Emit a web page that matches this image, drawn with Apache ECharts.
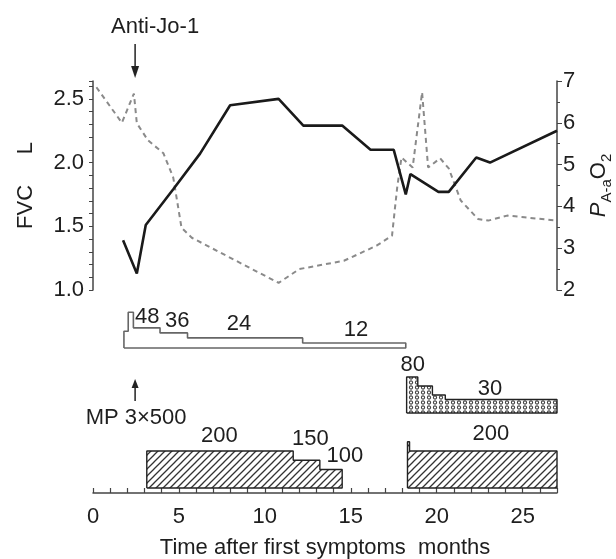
<!DOCTYPE html>
<html>
<head>
<meta charset="utf-8">
<script src="https://cdn.jsdelivr.net/npm/echarts@6/dist/echarts.min.js"></script>
<style>html,body{margin:0;background:#fff}#main{width:616px;height:559px}</style>
</head>
<body>
<div id="main"></div>
<script>
var FONT = "'Liberation Sans',Arial,sans-serif";
var FS = 22;
var INK = '#1e1e1e';

// months after first symptoms
var fvcMonths = [1.75, 2.55, 3.07, 4.67, 6.23, 7.98, 10.8, 12.24, 14.5, 16.15, 17.5, 18.2, 18.47, 20.1, 20.7, 22.3, 23.1, 27.0];
var fvcLitres = [1.39, 1.13, 1.51, 1.79, 2.07, 2.45, 2.50, 2.29, 2.29, 2.10, 2.10, 1.75, 1.91, 1.77, 1.77, 2.04, 2.00, 2.25];

var paMonths = [0.2, 1.68, 2.38, 2.55, 3.2, 4.1, 4.67, 5.15, 5.75, 10.8, 12.0, 14.6, 16.5, 17.4, 17.7, 17.95, 18.6, 19.15, 19.5, 20.2, 20.7, 21.4, 22.4, 23.0, 24.1, 25.1, 27.0];
var paValues = [6.85, 6.0, 6.7, 5.99, 5.58, 5.27, 4.69, 3.49, 3.25, 2.17, 2.5, 2.7, 3.06, 3.30, 4.45, 5.17, 4.93, 6.73, 4.93, 5.15, 4.91, 4.14, 3.7, 3.66, 3.78, 3.74, 3.66];

// dose courses: month where each step starts (last = end of course), dose of each step
var predMonths = [1.8, 2.05, 2.35, 3.9, 5.5, 12.2, 18.2];
var predDose = [40, 85, 48, 36, 24, 12];
var dotMonths = [18.25, 18.9, 19.75, 20.5, 27];
var dotDose = [80, 60, 40, 30];
var hatchAMonths = [3.13, 11.65, 13.2, 14.5];
var hatchADose = [200, 150, 100];
var hatchBMonths = [18.3, 18.42, 27];
var hatchBDose = [250, 200];

// dose labels: text, month, level
var predLabels = [['48', 3.15, 74], ['36', 4.9, 64], ['24', 8.5, 57], ['12', 15.3, 43]];
var dotLabels = [['80', 18.6, 107], ['30', 23.1, 53]];
var hatchLabels = [['200', 7.35, 281], ['150', 12.65, 265], ['100', 14.65, 173], ['200', 23.15, 292]];

var eventMonth = 2.45; // Anti-Jo-1 / MP 3x500

function stepData(months, doses) {
  var d = [[months[0], 0]];
  for (var i = 0; i < doses.length; i++) d.push([months[i], doses[i]]);
  d.push([months[months.length - 1], 0]);
  d.push([months[0], 0]);
  return d;
}
function zip(a, b) { return a.map(function (v, i) { return [v, b[i]]; }); }

function hatchPattern() {
  var c = document.createElement('canvas');
  c.width = 7; c.height = 7;
  var g = c.getContext('2d');
  g.fillStyle = '#fff'; g.fillRect(0, 0, 7, 7);
  g.strokeStyle = '#333'; g.lineWidth = 1.3;
  g.beginPath();
  g.moveTo(-1, 8); g.lineTo(8, -1);
  g.moveTo(-1, 1); g.lineTo(1, -1);
  g.moveTo(6, 8); g.lineTo(8, 6);
  g.stroke();
  return c;
}
function dotPattern() {
  var c = document.createElement('canvas');
  c.width = 6; c.height = 5;
  var g = c.getContext('2d');
  g.fillStyle = '#fff'; g.fillRect(0, 0, 6, 5);
  g.strokeStyle = '#444'; g.lineWidth = 1.1;
  g.beginPath(); g.arc(3, 2.5, 1.6, 0, Math.PI * 2); g.stroke();
  return c;
}

function labelSeries(list, xi, yi) {
  return {
    type: 'scatter', xAxisIndex: xi, yAxisIndex: yi, symbolSize: 0, silent: true, clip: false,
    itemStyle: { opacity: 1 },
    data: list.map(function (l) { return { value: [l[1], l[2]], name: l[0] }; }),
    label: { show: true, position: 'inside', formatter: '{b}', color: INK, opacity: 1, fontSize: FS, fontFamily: FONT }
  };
}

var chart = echarts.init(document.getElementById('main'));
var L = 93, R = 59;
var hiddenX = function (g) { return { gridIndex: g, type: 'value', min: 0, max: 27, show: false }; };
var hiddenY = function (g, max) { return { gridIndex: g, type: 'value', min: 0, max: max, show: false }; };
var axisText = { color: INK, fontSize: FS, fontFamily: FONT };
var gridBase = { left: L, right: R, outerBoundsMode: 'none', containLabel: false };
function grid(top, bottom) { return Object.assign({ top: top, bottom: bottom }, gridBase); }

var option = {
  backgroundColor: '#fff',
  animation: false,
  grid: [grid(81, 269), grid(306, 211), grid(354.5, 146), grid(432.5, 71), grid(490, 66)],
  xAxis: [
    hiddenX(0), hiddenX(1), hiddenX(2), hiddenX(3),
    {
      gridIndex: 4, type: 'value', min: 0, max: 27, interval: 1,
      axisLine: { lineStyle: { color: '#444', width: 1.5 } },
      axisTick: { inside: true, length: 5, lineStyle: { color: '#444', width: 1.2 } },
      axisLabel: Object.assign({ margin: 13, formatter: function (v) { return v % 5 === 0 ? String(v) : ''; } }, axisText),
      splitLine: { show: false },
      name: 'Time after first symptoms  months', nameLocation: 'middle', nameGap: 44,
      nameTextStyle: axisText
    }
  ],
  yAxis: [
    {
      gridIndex: 0, type: 'value', min: 1, max: 2.64, interval: 0.1, position: 'left',
      axisLine: { show: true, lineStyle: { color: '#444', width: 1.5 } },
      axisTick: { show: true, length: 4, lineStyle: { color: '#444' } },
      axisLabel: Object.assign({ margin: 9, formatter: function (v) {
        return Math.abs(v * 2 - Math.round(v * 2)) < 1e-6 ? v.toFixed(1) : '';
      } }, axisText),
      splitLine: { show: false },
      name: 'FVC     L', nameLocation: 'middle', nameGap: 56, nameRotate: 90,
      nameTextStyle: axisText
    },
    {
      gridIndex: 0, type: 'value', min: 2, max: 7, interval: 1, position: 'right',
      axisLine: { show: true, lineStyle: { color: '#444', width: 1.5 } },
      axisTick: { show: true, length: 5, lineStyle: { color: '#444' } },
      minorTick: { show: true, splitNumber: 2, length: 3, lineStyle: { color: '#444' } },
      axisLabel: Object.assign({ margin: 6 }, axisText),
      splitLine: { show: false },
      name: '{i|P}{s|A-a}{n|O}{s|2}', nameLocation: 'middle', nameGap: 27, nameRotate: 90,
      nameTextStyle: {
        color: INK, fontFamily: FONT, fontSize: FS,
        rich: {
          i: { fontStyle: 'italic', fontSize: FS, fontFamily: FONT, color: INK, lineHeight: 30 },
          n: { fontSize: FS, fontFamily: FONT, color: INK, lineHeight: 30 },
          s: { fontSize: 15, fontFamily: FONT, color: INK, verticalAlign: 'bottom', lineHeight: 15 }
        }
      }
    },
    hiddenY(1, 100), hiddenY(2, 130), hiddenY(4, 1), hiddenY(3, 300)
  ],
  series: [
    {
      type: 'line', xAxisIndex: 0, yAxisIndex: 1, data: zip(paMonths, paValues), showSymbol: false,
      lineStyle: { color: '#8a8a8a', width: 2, type: [5, 4] }
    },
    {
      type: 'line', xAxisIndex: 0, yAxisIndex: 0, data: zip(fvcMonths, fvcLitres), showSymbol: false,
      lineStyle: { color: '#1a1a1a', width: 2.6 }
    },
    {
      type: 'line', xAxisIndex: 1, yAxisIndex: 2, step: 'end', data: stepData(predMonths, predDose),
      showSymbol: false, clip: false, lineStyle: { color: '#666', width: 1.6 }
    },
    {
      type: 'line', xAxisIndex: 2, yAxisIndex: 3, step: 'end', data: stepData(dotMonths, dotDose),
      showSymbol: false, clip: false, lineStyle: { color: '#222', width: 1.4 },
      areaStyle: { color: { image: dotPattern(), repeat: 'repeat' }, opacity: 1 }
    },
    {
      type: 'line', xAxisIndex: 3, yAxisIndex: 5, step: 'end', data: stepData(hatchAMonths, hatchADose),
      showSymbol: false, clip: false, lineStyle: { color: '#222', width: 1.4 },
      areaStyle: { color: { image: hatchPattern(), repeat: 'repeat' }, opacity: 1 }
    },
    {
      type: 'line', xAxisIndex: 3, yAxisIndex: 5, step: 'end', data: stepData(hatchBMonths, hatchBDose),
      showSymbol: false, clip: false, lineStyle: { color: '#222', width: 1.4 },
      areaStyle: { color: { image: hatchPattern(), repeat: 'repeat' }, opacity: 1 }
    },
    labelSeries(predLabels, 1, 2),
    labelSeries(dotLabels, 2, 3),
    labelSeries(hatchLabels, 3, 5)
  ]
};
chart.setOption(option);

var ax = chart.convertToPixel({ xAxisIndex: 0 }, eventMonth);
chart.setOption({
  graphic: [
    { type: 'text', x: ax + 20, y: 27, style: { text: 'Anti-Jo-1', fill: INK, font: FS + 'px ' + FONT, align: 'center', verticalAlign: 'middle' } },
    { type: 'line', shape: { x1: ax, y1: 44, x2: ax, y2: 68 }, style: { stroke: '#222', lineWidth: 1.5 } },
    { type: 'polygon', shape: { points: [[ax - 4, 66], [ax + 4, 66], [ax, 78]] }, style: { fill: '#222' } },
    { type: 'line', shape: { x1: ax, y1: 386, x2: ax, y2: 401 }, style: { stroke: '#222', lineWidth: 1.5 } },
    { type: 'polygon', shape: { points: [[ax - 3.5, 388], [ax + 3.5, 388], [ax, 379]] }, style: { fill: '#222' } },
    { type: 'text', x: ax + 1, y: 418, style: { text: 'MP 3\u00d7500', fill: INK, font: FS + 'px ' + FONT, align: 'center', verticalAlign: 'middle' } }
  ]
});
</script>
</body>
</html>
